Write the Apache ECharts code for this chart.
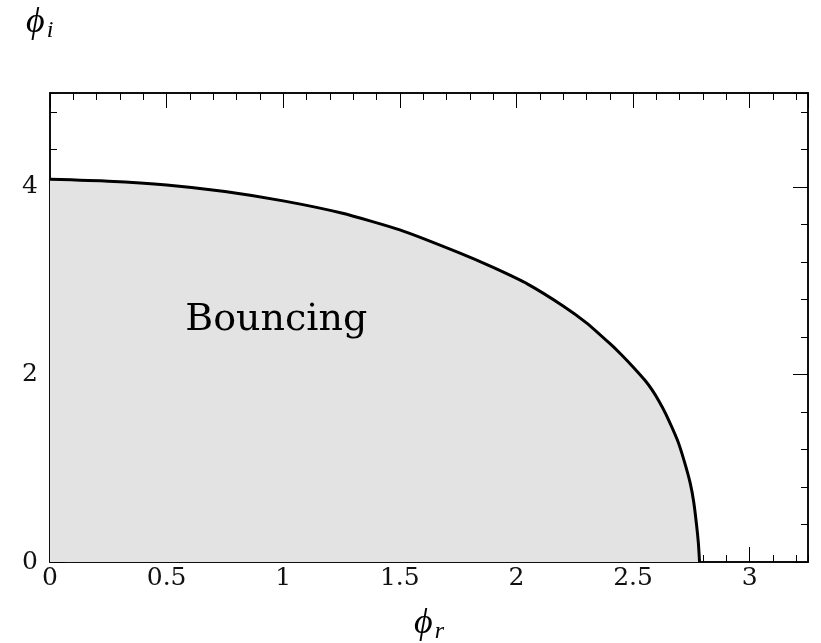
<!DOCTYPE html>
<html>
<head>
<meta charset="utf-8">
<script src="https://cdn.jsdelivr.net/npm/echarts@6/dist/echarts.min.js"></script>
<style>
  html, body { margin: 0; padding: 0; background: #fff; }
  #chart { width: 821px; height: 643px; }
</style>
</head>
<body>
<div id="chart"></div>
<script>
// Boundary of the bouncing region in the (phi_r, phi_i) plane
const phiR = [0, 0.25, 0.5, 0.75, 1.0, 1.25, 1.5, 1.75, 1.9, 2.05, 2.2, 2.3, 2.4, 2.45, 2.5, 2.55, 2.58, 2.61, 2.64, 2.69, 2.72, 2.745, 2.76, 2.772, 2.78, 2.785];
const phiI = [4.08, 4.06, 4.02, 3.95, 3.85, 3.72, 3.54, 3.30, 3.14, 2.96, 2.73, 2.55, 2.33, 2.21, 2.08, 1.94, 1.84, 1.72, 1.58, 1.30, 1.07, 0.84, 0.64, 0.40, 0.20, 0];

const xTicks = { min: 0, max: 3.25, major: 0.5, minor: 0.1 };
const yTicks = { min: 0, max: 5, major: 2, minor: 0.4 };

const regionLabel = 'Bouncing';
const regionLabelAt = [0.97, 2.58];

const serif = 'Liberation Serif';
const tickFont = 'DejaVu Serif';

function xAxisDef(position, step, tickLen, showLabel) {
  return {
    type: 'value', position: position,
    min: xTicks.min, max: xTicks.max, interval: step,
    axisLine: { show: true, onZero: false, lineStyle: { color: '#000', width: 1.5 } },
    axisTick: { show: true, inside: true, length: tickLen, lineStyle: { color: '#000', width: 1 } },
    axisLabel: {
      show: showLabel, showMaxLabel: false, margin: 4,
      color: '#111', fontFamily: tickFont, fontSize: 25,
      formatter: v => String(v)
    },
    splitLine: { show: false }
  };
}

function yAxisDef(position, step, tickLen, showLabel) {
  return {
    type: 'value', position: position,
    min: yTicks.min, max: yTicks.max, interval: step,
    axisLine: { show: true, onZero: false, lineStyle: { color: '#000', width: 1.5 } },
    axisTick: { show: true, inside: true, length: tickLen, lineStyle: { color: '#000', width: 1 } },
    axisLabel: {
      show: showLabel, showMaxLabel: false, margin: 12,
      color: '#111', fontFamily: tickFont, fontSize: 25
    },
    splitLine: { show: false }
  };
}

const nameRich = {
  p: { fontFamily: serif, fontStyle: 'italic', fontSize: 36, color: '#000' },
  s: { fontFamily: serif, fontStyle: 'italic', fontSize: 24, color: '#000', padding: [16, 0, 0, 2] }
};

const xMain = xAxisDef('bottom', xTicks.major, 15, true);
xMain.name = '{p|ϕ}{s|r}';
xMain.nameLocation = 'middle';
xMain.nameGap = 42;
xMain.nameTextStyle = { rich: nameRich };

const yMain = yAxisDef('left', yTicks.major, 15, true);
yMain.name = '{p|ϕ}{s|i}';
yMain.nameLocation = 'end';
yMain.nameGap = 50;
yMain.nameTextStyle = { align: 'left', padding: [0, 0, 0, -24], rich: nameRich };

const chart = echarts.init(document.getElementById('chart'), null, { renderer: 'canvas' });
chart.setOption({
  animation: false,
  backgroundColor: '#fff',
  textStyle: { fontFamily: serif, color: '#000' },
  grid: { left: 50, right: 13, top: 93, bottom: 81, containLabel: false, outerBoundsMode: 'none' },
  xAxis: [
    xMain,
    xAxisDef('bottom', xTicks.minor, 7, false),
    xAxisDef('top', xTicks.major, 15, false),
    xAxisDef('top', xTicks.minor, 7, false)
  ],
  yAxis: [
    yMain,
    yAxisDef('left', yTicks.minor, 7, false),
    yAxisDef('right', yTicks.major, 15, false),
    yAxisDef('right', yTicks.minor, 7, false)
  ],
  series: [{
    type: 'line',
    xAxisIndex: 0, yAxisIndex: 0,
    data: phiR.map((x, i) => [x, phiI[i]]),
    smooth: 0.2,
    showSymbol: false,
    symbol: 'none',
    lineStyle: { color: '#000', width: 3 },
    areaStyle: { color: '#e3e3e3', opacity: 1, origin: 'start' },
    z: 1,
    markPoint: {
      symbol: 'circle', symbolSize: 0,
      data: [{ coord: regionLabelAt, value: regionLabel }],
      label: {
        show: true, position: 'inside', formatter: regionLabel,
        color: '#000', fontFamily: 'DejaVu Serif', fontSize: 38
      }
    }
  }]
});
</script>
</body>
</html>
